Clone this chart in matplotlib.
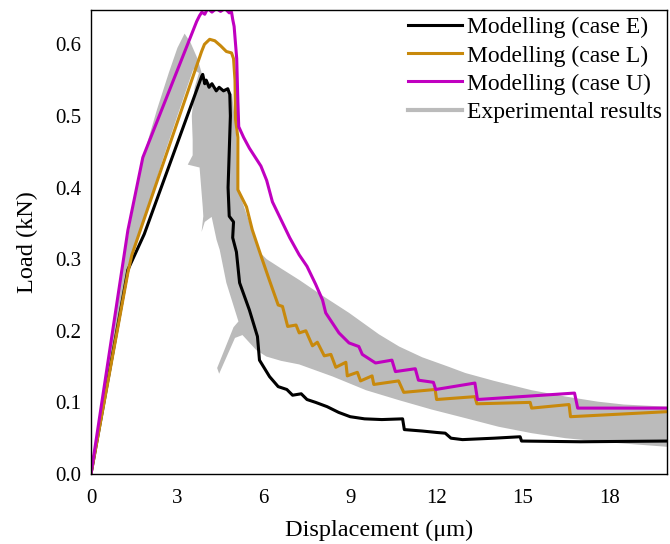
import numpy as np
import matplotlib.pyplot as plt
from matplotlib.ticker import FormatStrFormatter

plt.rcParams['font.family'] = ['Liberation Serif', 'DejaVu Serif']

# case E (black)
xE = [0, 1.28, 1.85, 3.85, 3.88, 3.95, 4.0, 4.1, 4.2, 4.35, 4.45, 4.6, 4.75, 4.82, 4.84,
      4.8, 4.76, 4.8, 4.95, 4.92, 5.05, 5.16, 5.5, 5.78, 5.85, 6.2, 6.5, 6.8, 7.0, 7.3,
      7.5, 7.8, 8.2, 8.6, 9.0, 9.5, 10.1, 10.82, 10.88, 11.5, 12.0, 12.3, 12.5, 12.9,
      14.0, 14.9, 14.95, 17.0, 20.0]
yE = [0, 0.285, 0.335, 0.556, 0.558, 0.545, 0.55, 0.54, 0.545, 0.535, 0.54, 0.535, 0.538,
      0.53, 0.50, 0.45, 0.40, 0.36, 0.352, 0.33, 0.31, 0.267, 0.229, 0.192, 0.159, 0.136,
      0.122, 0.118, 0.11, 0.112, 0.104, 0.10, 0.094, 0.086, 0.08, 0.077, 0.076, 0.077,
      0.062, 0.06, 0.058, 0.057, 0.05, 0.048, 0.05, 0.052, 0.046, 0.045, 0.046]

# case L (orange)
xL = [0, 1.28, 1.42, 3.84, 3.94, 4.12, 4.3, 4.5, 4.7, 4.88, 4.95, 5.0, 5.02, 5.1, 5.1,
      5.4, 5.6, 5.9, 6.2, 6.5, 6.65, 6.83, 7.12, 7.23, 7.46, 7.69, 7.86, 8.1, 8.33, 8.5,
      8.85, 8.9, 9.25, 9.36, 9.76, 9.82, 10.68, 10.86, 11.95, 12.0, 13.33, 13.4, 15.25,
      15.3, 16.6, 16.65, 20.0]
yL = [0, 0.281, 0.306, 0.59, 0.60, 0.607, 0.605, 0.598, 0.59, 0.588, 0.58, 0.55, 0.495,
      0.47, 0.397, 0.373, 0.341, 0.305, 0.27, 0.236, 0.234, 0.206, 0.208, 0.197, 0.20,
      0.179, 0.184, 0.165, 0.167, 0.149, 0.156, 0.137, 0.142, 0.13, 0.137, 0.125, 0.13,
      0.114, 0.118, 0.104, 0.108, 0.098, 0.10, 0.092, 0.097, 0.08, 0.087]

# case U (magenta)
xU = [0, 1.28, 1.8, 3.67, 3.77, 3.85, 3.95, 4.05, 4.2, 4.35, 4.5, 4.65, 4.8, 4.88, 4.92,
      4.97, 5.0, 5.06, 5.1, 5.13, 5.3, 5.5, 5.9, 6.1, 6.3, 6.6, 6.9, 7.23, 7.5, 7.8, 8.04,
      8.15, 8.38, 8.61, 8.96, 9.3, 9.42, 9.88, 10.45, 10.57, 11.26, 11.37, 11.89, 11.97,
      13.33, 13.42, 16.79, 16.9, 20.0]
yU = [0, 0.34, 0.442, 0.632, 0.64, 0.645, 0.642, 0.65, 0.645, 0.65, 0.646, 0.65, 0.644,
      0.645, 0.635, 0.625, 0.61, 0.58, 0.52, 0.485, 0.47, 0.455, 0.43, 0.41, 0.38, 0.355,
      0.33, 0.306, 0.29, 0.265, 0.243, 0.225, 0.211, 0.197, 0.183, 0.178, 0.167, 0.155,
      0.159, 0.143, 0.147, 0.131, 0.128, 0.118, 0.127, 0.104, 0.113, 0.092, 0.092]

# experimental scatter band (outline)
xX = [0, 0.5, 1.0, 1.28, 1.6, 1.9, 2.3, 2.7, 3.0, 3.25, 3.45, 3.7, 3.88, 4.3, 4.8, 4.9,
      4.98, 5.05, 5.08, 5.3, 5.55, 5.85, 6.1, 6.6, 7.23, 8.0, 8.96, 10.0, 10.7, 11.5,
      12.4, 13.0, 14.0, 15.3, 16.5, 17.6, 18.5, 20.0,
      20.0, 18.0, 16.47, 15.3, 14.15, 13.0, 11.83, 10.7, 9.55, 8.4, 7.23, 6.6, 6.09,
      5.74, 5.26, 5.0, 4.45, 4.38, 4.95, 5.12, 4.7, 4.47, 4.36, 4.19, 3.95, 3.84, 3.9,
      3.88, 3.77, 3.36, 3.53, 3.53, 3.5, 3.6, 3.75, 3.55, 3.0, 2.5, 2.0, 1.5, 1.28, 0.6,
      0.05]
yX = [0, 0.135, 0.265, 0.33, 0.40, 0.455, 0.51, 0.56, 0.595, 0.615, 0.603, 0.58, 0.555,
      0.54, 0.535, 0.53, 0.50, 0.47, 0.40, 0.375, 0.345, 0.31, 0.30, 0.287, 0.271, 0.25,
      0.225, 0.195, 0.178, 0.163, 0.15, 0.141, 0.13, 0.117, 0.108, 0.101, 0.097, 0.094,
      0.038, 0.044, 0.05, 0.057, 0.066, 0.078, 0.09, 0.103, 0.117, 0.136, 0.153, 0.158,
      0.164, 0.173, 0.194, 0.19, 0.14, 0.148, 0.205, 0.213, 0.267, 0.313, 0.327, 0.359,
      0.352, 0.338, 0.36, 0.373, 0.428, 0.432, 0.445, 0.467, 0.50, 0.54, 0.56, 0.565,
      0.50, 0.44, 0.375, 0.31, 0.275, 0.13, 0]

fig = plt.figure(figsize=(6.7, 5.44), dpi=100)
ax = fig.add_axes([0.1358, 0.1287, 0.8597, 0.853])

ax.fill(xX, yX, color='#bbbbbb', lw=0)
ax.plot(xE, yE, color='black', lw=2.2, label='Modelling (case E)')
ax.plot(xL, yL, color='#c8890c', lw=2.2, label='Modelling (case L)')
ax.plot(xU, yU, color='#c000c0', lw=2.2, label='Modelling (case U)')
ax.plot([], [], color='#bbbbbb', lw=3, label='Experimental results')

ax.set_xlim(0, 20)
ax.set_ylim(0, 0.648)
ax.set_xticks([0, 3, 6, 9, 12, 15, 18])
ax.set_yticks([0, 0.1, 0.2, 0.3, 0.4, 0.5, 0.6])
ax.yaxis.set_major_formatter(FormatStrFormatter('%.1f'))
ax.tick_params(length=0, labelsize=15)
ax.tick_params(axis='x', pad=11)
ax.tick_params(axis='y', pad=7)
for s in ax.spines.values():
    s.set_linewidth(1)

ax.set_xlabel('Displacement (μm)', fontsize=17.5, labelpad=8)
ax.set_ylabel('Load (kN)', fontsize=17.5, labelpad=12)

ax.legend(loc='upper left', bbox_to_anchor=(0.55, 0.985), frameon=False, fontsize=17,
          handlelength=2.3, handletextpad=0.2, labelspacing=0.28, borderpad=0,
          borderaxespad=0)

plt.savefig('out.png', dpi=100)
